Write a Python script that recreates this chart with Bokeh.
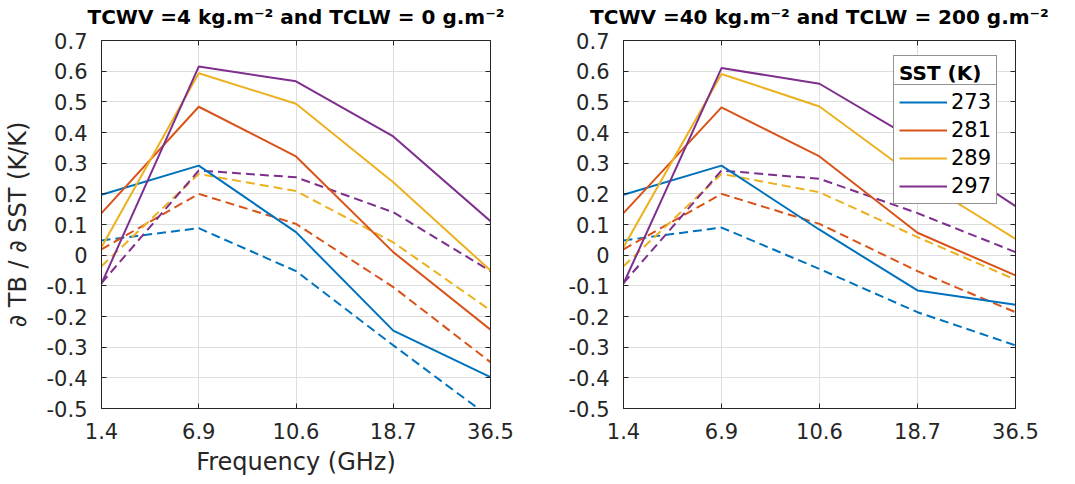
from bokeh.plotting import figure
from bokeh.layouts import row
from bokeh.models import FixedTicker, LinearAxis, CustomLabelingPolicy, Legend, LegendItem
from bokeh.embed import file_html
from bokeh.resources import INLINE

freqs = ["1.4", "6.9", "10.6", "18.7", "36.5"]
sst_labels = ["273", "281", "289", "297"]
colors = ["#0072BD", "#D95319", "#EDB120", "#7E2F8E"]
yticks = [-0.5, -0.4, -0.3, -0.2, -0.1, 0.0, 0.1, 0.2, 0.3, 0.4, 0.5, 0.6, 0.7]
ytick_labels = ["-0.5", "-0.4", "-0.3", "-0.2", "-0.1", "0", "0.1", "0.2", "0.3", "0.4", "0.5", "0.6", "0.7"]

# Left panel: TCWV = 4 kg m-2, TCLW = 0 g m-2
left_solid_273 = [0.197, 0.292, 0.075, -0.246, -0.398]
left_solid_281 = [0.137, 0.484, 0.322, 0.010, -0.243]
left_solid_289 = [0.026, 0.593, 0.494, 0.238, -0.050]
left_solid_297 = [-0.093, 0.615, 0.567, 0.387, 0.111]
left_dash_273 = [0.048, 0.088, -0.052, -0.294, -0.530]
left_dash_281 = [0.019, 0.200, 0.102, -0.104, -0.349]
left_dash_289 = [-0.036, 0.265, 0.209, 0.042, -0.180]
left_dash_297 = [-0.091, 0.276, 0.254, 0.140, -0.052]

# Right panel: TCWV = 40 kg m-2, TCLW = 200 g m-2
right_solid_273 = [0.197, 0.292, 0.083, -0.115, -0.162]
right_solid_281 = [0.137, 0.482, 0.322, 0.073, -0.066]
right_solid_289 = [0.026, 0.591, 0.485, 0.250, 0.053]
right_solid_297 = [-0.093, 0.610, 0.559, 0.370, 0.160]
right_dash_273 = [0.048, 0.090, -0.045, -0.186, -0.294]
right_dash_281 = [0.019, 0.200, 0.102, -0.052, -0.186]
right_dash_289 = [-0.036, 0.265, 0.205, 0.059, -0.080]
right_dash_297 = [-0.091, 0.276, 0.249, 0.137, 0.010]

TXT = "#262626"
FONT = "DejaVu Sans"
NO_LABELS = "for (const i of indices) indices.unset(i); return indices"


def style_legend(lg):
    lg.label_text_font = FONT
    lg.label_text_font_size = "21px"
    lg.label_text_color = "black"
    lg.label_height = 20
    lg.glyph_height = 20
    lg.glyph_width = 48
    lg.label_standoff = 4
    lg.spacing = 4
    lg.padding = 5
    lg.margin = 0
    lg.border_line_color = TXT
    lg.border_line_width = 1
    lg.background_fill_color = "white"
    lg.background_fill_alpha = 1
    lg.location = (270, 204)


def make_fig(title, solids, dashes, width, left_border, right_border, xlabel, ylabel, legend):
    p = figure(width=width, height=482, x_range=(0, len(freqs) - 1), y_range=(-0.5, 0.7),
               output_backend="svg", toolbar_location=None,
               min_border_left=left_border, min_border_right=right_border,
               min_border_top=40, min_border_bottom=74)
    xs = list(range(len(freqs)))
    xt = FixedTicker(ticks=xs)
    yt = FixedTicker(ticks=yticks)
    p.xaxis.ticker = xt
    p.yaxis.ticker = yt
    p.xaxis.major_label_overrides = {i: f for i, f in enumerate(freqs)}
    p.yaxis.major_label_overrides = {t: l for t, l in zip(yticks, ytick_labels)}
    p.xgrid.ticker = xt
    p.ygrid.ticker = yt
    for g in (p.xgrid, p.ygrid):
        g.grid_line_color = "#dedede"
        g.grid_line_width = 1
    for ax in (p.xaxis, p.yaxis):
        ax.major_label_text_font = FONT
        ax.major_label_text_font_size = "21px"
        ax.major_label_text_color = TXT
        ax.axis_line_color = TXT
        ax.major_tick_line_color = TXT
        ax.major_tick_in = 5
        ax.major_tick_out = 0
        ax.minor_tick_line_color = None
        ax.axis_label_text_font = FONT
        ax.axis_label_text_font_size = "24px"
        ax.axis_label_text_font_style = "normal"
        ax.axis_label_text_color = TXT
    p.xaxis.major_label_standoff = 14
    p.yaxis.major_label_standoff = 14
    if xlabel:
        p.xaxis.axis_label = xlabel
        p.xaxis.axis_label_standoff = 6
    if ylabel:
        p.yaxis.axis_label = ylabel
        p.yaxis.axis_label_standoff = 12
    # mirrored ticks on the right and top edges (no labels)
    ra = LinearAxis(ticker=yt, major_label_policy=CustomLabelingPolicy(code=NO_LABELS),
                    major_tick_in=5, major_tick_out=0,
                    minor_tick_line_color=None, axis_line_color=TXT, major_tick_line_color=TXT,
                    major_label_standoff=0)
    ta = LinearAxis(ticker=xt, major_label_policy=CustomLabelingPolicy(code=NO_LABELS),
                    major_tick_in=5, major_tick_out=0,
                    minor_tick_line_color=None, axis_line_color=TXT, major_tick_line_color=TXT,
                    major_label_standoff=0)
    p.add_layout(ra, "right")
    p.add_layout(ta, "above")
    p.outline_line_color = TXT
    p.outline_line_width = 1
    p.title.text = title
    p.title.text_font = FONT
    p.title.text_font_size = "20px"
    p.title.text_font_style = "bold"
    p.title.text_color = "black"
    p.title.align = "center"
    p.title.standoff = 1

    for ys, c in zip(dashes, colors):
        p.line(xs, ys, line_color=c, line_width=2, line_dash="9 5")
    solid_renderers = []
    for ys, c in zip(solids, colors):
        solid_renderers.append(p.line(xs, ys, line_color=c, line_width=2))

    if legend:
        # outer legend: title + entries
        outer = Legend(items=[LegendItem(label=l, renderers=[r]) for l, r in zip(sst_labels, solid_renderers)])
        style_legend(outer)
        outer.title = "SST (K)"
        outer.title_text_font = FONT
        outer.title_text_font_size = "20px"
        outer.title_text_font_style = "bold"
        outer.title_text_color = "black"
        outer.title_standoff = 5
        p.add_layout(outer)
        # inner legend: same entries without title, its top border draws the separator
        inner = Legend(items=[LegendItem(label=l, renderers=[r]) for l, r in zip(sst_labels, solid_renderers)])
        style_legend(inner)
        p.add_layout(inner)
    return p


p1 = make_fig("TCWV =4 kg.m\u207b\u00b2 and TCLW = 0 g.m\u207b\u00b2",
              [left_solid_273, left_solid_281, left_solid_289, left_solid_297],
              [left_dash_273, left_dash_281, left_dash_289, left_dash_297],
              548, 98, 58, "Frequency (GHz)", "\u2202 TB / \u2202 SST (K/K)", False)
p2 = make_fig("TCWV =40 kg.m\u207b\u00b2 and TCLW = 200 g.m\u207b\u00b2",
              [right_solid_273, right_solid_281, right_solid_289, right_solid_297],
              [right_dash_273, right_dash_281, right_dash_289, right_dash_297],
              519, 75, 52, None, None, True)

layout = row(p1, p2)
open("out.html", "w").write(file_html(layout, INLINE))
